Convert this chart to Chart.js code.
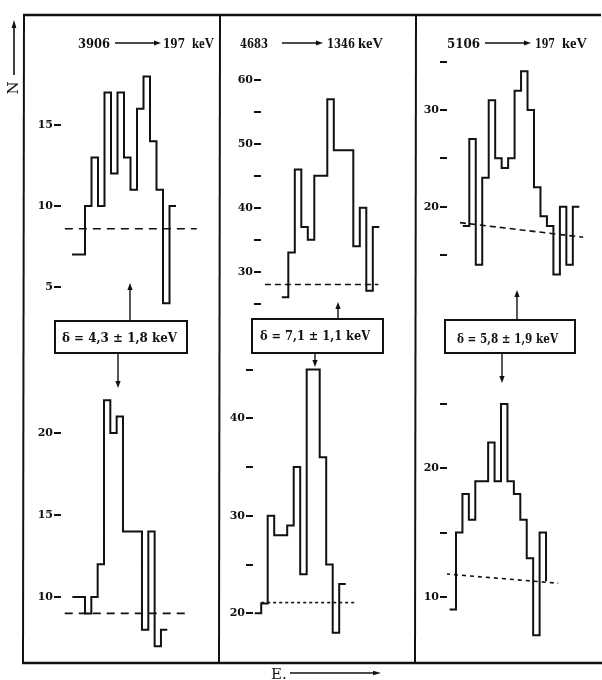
<!DOCTYPE html>
<html>
<head>
<meta charset="utf-8">
<script src="https://cdn.jsdelivr.net/npm/chart.js@4.4.1/dist/chart.umd.min.js"></script>
<style>
  html, body { margin: 0; padding: 0; background: #fff; }
  #page { position: relative; width: 602px; height: 680px; overflow: hidden; background: #fff; }
  #page canvas { position: absolute; }
  #overlay { position: absolute; left: 0; top: 0; }
  #overlay line { stroke: #111; }
  #overlay polygon { fill: #111; }
  #overlay text { fill: #111; font-family: "DejaVu Serif", serif; }
  .num { font-weight: bold; font-size: 12px; }
  .kev { font-size: 14px; font-family: "Liberation Serif", serif !important; font-weight: bold; }
  .box { font-size: 12px; font-weight: bold; }
</style>
</head>
<body>
<div id="page">
  <canvas id="p1top"></canvas>
  <canvas id="p1bot"></canvas>
  <canvas id="p2top"></canvas>
  <canvas id="p2bot"></canvas>
  <canvas id="p3top"></canvas>
  <canvas id="p3bot"></canvas>
  <svg id="overlay" width="602" height="680">
    <!-- frame -->
    <line x1="23" y1="15" x2="601" y2="15" stroke-width="2.5"/>
    <line x1="24" y1="14" x2="23" y2="664" stroke-width="2"/>
    <line x1="220" y1="14" x2="219" y2="664" stroke-width="2"/>
    <line x1="416" y1="14" x2="415" y2="664" stroke-width="2"/>
    <line x1="22" y1="663" x2="602" y2="663" stroke-width="2.5"/>

    <!-- titles -->
    <text class="num" x="78" y="48" textLength="32" lengthAdjust="spacingAndGlyphs">3906</text>
    <text class="num" x="163" y="48" textLength="22" lengthAdjust="spacingAndGlyphs">197</text>
    <text class="kev" x="192" y="48" textLength="22" lengthAdjust="spacingAndGlyphs">keV</text>

    <text class="num" x="240" y="48" textLength="28" lengthAdjust="spacingAndGlyphs">4683</text>
    <text class="num" x="327" y="48" textLength="28" lengthAdjust="spacingAndGlyphs">1346</text>
    <text class="kev" x="358" y="48" textLength="25" lengthAdjust="spacingAndGlyphs">keV</text>

    <text class="num" x="447" y="48" textLength="33" lengthAdjust="spacingAndGlyphs">5106</text>
    <text class="num" x="535" y="48" textLength="20" lengthAdjust="spacingAndGlyphs">197</text>
    <text class="kev" x="562" y="48" textLength="25" lengthAdjust="spacingAndGlyphs">keV</text>

    <!-- delta boxes -->
    <rect x="55" y="321" width="132" height="32" fill="none" stroke="#111" stroke-width="2"/>
    <text class="box" x="62" y="342" textLength="115" lengthAdjust="spacingAndGlyphs">δ = 4,3 ± 1,8 keV</text>
    <rect x="252" y="319" width="131" height="34" fill="none" stroke="#111" stroke-width="2"/>
    <text class="box" x="260" y="340" textLength="110" lengthAdjust="spacingAndGlyphs">δ = 7,1 ± 1,1 keV</text>
    <rect x="445" y="320" width="130" height="33" fill="none" stroke="#111" stroke-width="2"/>
    <text class="box" x="457" y="343" textLength="101" lengthAdjust="spacingAndGlyphs">δ = 5,8 ± 1,9 keV</text>

    <!-- axis names -->
    <text transform="translate(18,88) rotate(-90)" text-anchor="middle" font-size="15">N</text>
    <text x="271" y="679" font-size="15">E.</text>
  </svg>
</div>
<script>
// 3906 -> 197 keV, upper and lower spectrum (counts per channel)
const p1TopStart = -2;
const p1TopCounts = [7, 7, 10, 13, 10, 17, 12, 17, 13, 11, 16, 18, 14, 11, 4, 10, 10];
const p1TopBgChan = [-3.1, 17.2];
const p1TopBgCounts = [8.6, 8.6];
const p1TopTicks = [5, 10, 15];
const p1TopLabels = [5, 10, 15];

const p1BotStart = -2;
const p1BotCounts = [10, 10, 9, 10, 12, 22, 20, 21, 14, 14, 14, 8, 14, 7, 8, 8];
const p1BotBgChan = [-3.2, 16.6];
const p1BotBgCounts = [9.0, 9.0];
const p1BotTicks = [10, 15, 20];
const p1BotLabels = [10, 15, 20];

// 4683 -> 1346 keV
const p2TopStart = -1;
const p2TopCounts = [26, 33, 46, 37, 35, 45, 45, 57, 49, 49, 49, 34, 40, 27, 37, 37];
const p2TopBgChan = [-3.6, 13.85];
const p2TopBgCounts = [28, 28];
const p2TopTicks = [25, 30, 35, 40, 45, 50, 55, 60];
const p2TopLabels = [30, 40, 50, 60];

const p2BotStart = -2;
const p2BotCounts = [20, 21, 30, 28, 28, 29, 35, 24, 45, 45, 36, 25, 18, 23, 23];
const p2BotBgChan = [-1, 13.4];
const p2BotBgCounts = [21.1, 21.1];
const p2BotTicks = [20, 25, 30, 35, 40, 45];
const p2BotLabels = [20, 30, 40];

// 5106 -> 197 keV
const p3TopStart = -1;
const p3TopCounts = [18, 27, 14, 23, 31, 25, 24, 25, 32, 34, 30, 22, 19, 18, 13, 20, 14, 20, 20];
const p3TopBgChan = [-1.44, 17.6];
const p3TopBgCounts = [18.35, 16.84];
const p3TopTicks = [15, 20, 25, 30, 35];
const p3TopLabels = [20, 30];

const p3BotStart = -1;
const p3BotCounts = [9, 15, 18, 16, 19, 19, 22, 19, 25, 19, 18, 16, 13, 7, 15, 11.2];
const p3BotBgChan = [-1.55, 15.9];
const p3BotBgCounts = [11.77, 11.05];
const p3BotTicks = [10, 15, 20, 25];
const p3BotLabels = [10, 20];

const AXIS_W = 40;
const INK = '#111';

// box: plot area in page pixels, x0/bin = pixel of channel 0 and channel width,
// ref = two y ticks [value, pixel, value, pixel] used to pin the count scale
function histChart (id, box, start, counts, bgChan, bgCounts, ticks, labels, dash) {
    const canvas = document.getElementById(id);
    const left = box.left - AXIS_W;
    canvas.width = box.right - left;
    canvas.height = box.bottom - box.top;
    canvas.style.left = left + 'px';
    canvas.style.top = box.top + 'px';

    const [v1, py1, v2, py2] = box.ref;
    const pxPerUnit = (py2 - py1) / (v1 - v2);
    const yMax = v1 + (py1 - box.top) / pxPerUnit;
    const yMin = v1 - (box.bottom - py1) / pxPerUnit;

    return new Chart(canvas.getContext('2d'), {
        type: 'line',
        data: {
            datasets: [{
                data: counts.map((n, i) => ({ x: start + i, y: n })),
                stepped: 'before',
                borderColor: INK,
                borderWidth: 2,
                pointRadius: 0,
                fill: false
            }, {
                data: bgChan.map((c, i) => ({ x: c, y: bgCounts[i] })),
                borderColor: INK,
                borderWidth: 1.6,
                borderDash: dash,
                pointRadius: 0,
                fill: false
            }]
        },
        options: {
            responsive: false,
            animation: false,
            events: [],
            layout: { padding: 0 },
            plugins: {
                legend: { display: false },
                tooltip: { enabled: false }
            },
            scales: {
                x: {
                    type: 'linear',
                    display: false,
                    min: (box.left - box.x0) / box.bin,
                    max: (box.right - box.x0) / box.bin
                },
                y: {
                    min: yMin,
                    max: yMax,
                    afterBuildTicks: s => { s.ticks = ticks.map(v => ({ value: v })); },
                    afterFit: s => { s.width = AXIS_W; s.paddingTop = 0; s.paddingBottom = 0; },
                    border: { display: false },
                    grid: {
                        drawOnChartArea: false,
                        drawTicks: true,
                        tickLength: 7,
                        color: INK,
                        lineWidth: 2
                    },
                    ticks: {
                        autoSkip: false,
                        padding: 1,
                        color: INK,
                        font: { family: 'DejaVu Serif', weight: 'bold', size: 11 },
                        callback: v => labels.includes(v) ? String(v) : ''
                    }
                }
            }
        }
    });
}

histChart('p1top', { left: 61, right: 214, top: 55, bottom: 312, x0: 85, bin: 6.5, ref: [15, 125, 5, 287] },
    p1TopStart, p1TopCounts, p1TopBgChan, p1TopBgCounts, p1TopTicks, p1TopLabels, [8, 6]);
histChart('p1bot', { left: 61, right: 214, top: 375, bottom: 658, x0: 85, bin: 6.33, ref: [20, 433, 10, 597] },
    p1BotStart, p1BotCounts, p1BotBgChan, p1BotBgCounts, p1BotTicks, p1BotLabels, [8, 6]);
histChart('p2top', { left: 261, right: 410, top: 55, bottom: 315, x0: 288.3, bin: 6.5, ref: [60, 80, 30, 271.7] },
    p2TopStart, p2TopCounts, p2TopBgChan, p2TopBgCounts, p2TopTicks, p2TopLabels, [6, 4]);
histChart('p2bot', { left: 253, right: 410, top: 355, bottom: 658, x0: 267.7, bin: 6.5, ref: [40, 418.3, 20, 613.3] },
    p2BotStart, p2BotCounts, p2BotBgChan, p2BotBgCounts, p2BotTicks, p2BotLabels, [3, 3]);
histChart('p3top', { left: 447, right: 600, top: 50, bottom: 305, x0: 469.3, bin: 6.47, ref: [30, 110, 20, 206.7] },
    p3TopStart, p3TopCounts, p3TopBgChan, p3TopBgCounts, p3TopTicks, p3TopLabels, [6, 4]);
histChart('p3bot', { left: 447, right: 600, top: 375, bottom: 658, x0: 456, bin: 6.43, ref: [20, 468.3, 10, 596.7] },
    p3BotStart, p3BotCounts, p3BotBgChan, p3BotBgCounts, p3BotTicks, p3BotLabels, [4, 4]);

// arrows of the drawing (titles, boxes, axis names)
const svg = document.getElementById('overlay');
const NS = 'http://www.w3.org/2000/svg';
function arrow (x1, y1, x2, y2, len = 7, half = 2.6, w = 1.4) {
    const dx = x2 - x1, dy = y2 - y1;
    const d = Math.hypot(dx, dy);
    const ux = dx / d, uy = dy / d;
    const bx = x2 - ux * len, by = y2 - uy * len;
    const line = document.createElementNS(NS, 'line');
    line.setAttribute('x1', x1); line.setAttribute('y1', y1);
    line.setAttribute('x2', bx); line.setAttribute('y2', by);
    line.setAttribute('stroke-width', w);
    svg.appendChild(line);
    const head = document.createElementNS(NS, 'polygon');
    head.setAttribute('points', `${x2},${y2} ${bx - uy * half},${by + ux * half} ${bx + uy * half},${by - ux * half}`);
    svg.appendChild(head);
}

arrow(115, 43, 161, 43);
arrow(282, 43, 323, 43);
arrow(485, 43, 531, 43);

arrow(130, 321, 130, 283);
arrow(118, 353, 118, 388);
arrow(338, 319, 338, 302);
arrow(315, 353, 315, 367);
arrow(517, 320, 517, 290);
arrow(502, 353, 502, 383);

arrow(14, 75, 14, 20, 8, 2.4, 1.6);
arrow(290, 673, 381, 673, 8, 2.2, 1.4);
</script>
</body>
</html>
